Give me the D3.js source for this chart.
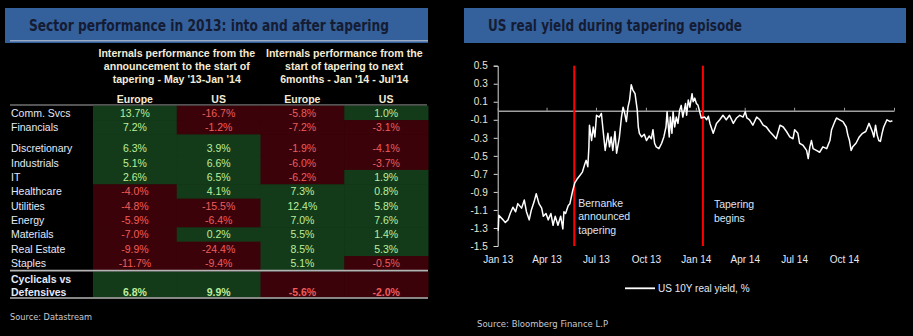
<!DOCTYPE html>
<html>
<head>
<meta charset="utf-8">
<script src="https://cdn.jsdelivr.net/npm/d3@7"></script>
<style>
  body { margin: 0; background: #000; }
  svg { display: block; }
</style>
</head>
<body>
<svg></svg>
<script>
/* ---- table data ---- */
var sectors = ["Comm. Svcs", "Financials", "Discretionary", "Industrials", "IT", "Healthcare",
               "Utilities", "Energy", "Materials", "Real Estate", "Staples"];
var europePre  = [13.7, 7.2, 6.3, 5.1, 2.6, -4.0, -4.8, -5.9, -7.0, -9.9, -11.7];
var usPre      = [-16.7, -1.2, 3.9, 6.6, 6.5, 4.1, -15.5, -6.4, 0.2, -24.4, -9.4];
var europePost = [-5.8, -7.2, -1.9, -6.0, -6.2, 7.3, 12.4, 7.0, 5.5, 8.5, 5.1];
var usPost     = [1.0, -3.1, -4.1, -3.7, 1.9, 0.8, 5.8, 7.6, 1.4, 5.3, -0.5];
var cycVsDef   = [6.8, 9.9, -5.6, -2.0];
var colNames   = ["Europe", "US", "Europe", "US"];
var periodHeaders = [
  ["Internals performance from the", "announcement to the start of", "tapering - May '13-Jan '14"],
  ["Internals performance from the", "start of tapering to next", "6months - Jan '14 - Jul'14"]
];

/* ---- US 10Y real yield, % ---- */
var yieldDates = ["2013-01-02","2013-01-03","2013-01-11","2013-01-15","2013-01-20","2013-01-24","2013-01-29",
  "2013-02-03","2013-02-07","2013-02-14","2013-02-19","2013-02-23","2013-02-28","2013-03-04","2013-03-09",
  "2013-03-13","2013-03-18","2013-03-23","2013-03-26","2013-03-31","2013-04-04","2013-04-09","2013-04-13",
  "2013-04-17","2013-04-22","2013-04-27","2013-05-01","2013-05-03","2013-05-06","2013-05-11","2013-05-14",
  "2013-05-19","2013-05-23","2013-05-27","2013-06-01","2013-06-06","2013-06-10","2013-06-13","2013-06-16",
  "2013-06-18","2013-06-19","2013-06-23","2013-06-26","2013-06-29","2013-07-02","2013-07-07","2013-07-11",
  "2013-07-14","2013-07-18","2013-07-23","2013-07-26","2013-07-29","2013-08-01","2013-08-05","2013-08-08",
  "2013-08-13","2013-08-17","2013-08-20","2013-08-23","2013-08-26","2013-08-29","2013-09-01","2013-09-04",
  "2013-09-07","2013-09-11","2013-09-15","2013-09-17","2013-09-19","2013-09-23","2013-09-28","2013-10-02",
  "2013-10-07","2013-10-11","2013-10-14","2013-10-17","2013-10-20","2013-10-25","2013-10-30","2013-11-03",
  "2013-11-07","2013-11-09","2013-11-13","2013-11-15","2013-11-18","2013-11-20","2013-11-23","2013-11-26",
  "2013-11-29","2013-12-02","2013-12-05","2013-12-08","2013-12-13","2013-12-15","2013-12-18","2013-12-21",
  "2013-12-25","2013-12-27","2013-12-30","2014-01-02","2014-01-05","2014-01-08","2014-01-11","2014-01-17",
  "2014-01-21","2014-01-24","2014-01-27","2014-02-02","2014-02-08","2014-02-14","2014-02-20","2014-02-26",
  "2014-03-04","2014-03-11","2014-03-17","2014-03-23","2014-03-29","2014-04-02","2014-04-05","2014-04-10",
  "2014-04-16","2014-04-23","2014-04-29","2014-05-05","2014-05-11","2014-05-17","2014-05-23","2014-05-29",
  "2014-06-05","2014-06-11","2014-06-17","2014-06-23","2014-06-29","2014-07-02","2014-07-08","2014-07-11",
  "2014-07-17","2014-07-24","2014-07-27","2014-07-30","2014-08-02","2014-08-05","2014-08-11","2014-08-17",
  "2014-08-23","2014-08-30","2014-09-05","2014-09-08","2014-09-14","2014-09-17","2014-09-23","2014-09-29",
  "2014-10-05","2014-10-08","2014-10-11","2014-10-14","2014-10-17","2014-10-23","2014-10-29","2014-11-04",
  "2014-11-10","2014-11-16","2014-11-22","2014-11-25","2014-11-28","2014-12-01","2014-12-04","2014-12-07",
  "2014-12-10","2014-12-13","2014-12-19","2014-12-25","2014-12-29"];
var yieldValues = [-1.33,-1.16,-1.21,-1.24,-1.21,-1.14,-1.07,
  -1.12,-1.03,-1.08,-0.99,-1.12,-1.21,-1.10,-1.01,
  -0.92,-1.03,-1.08,-1.17,-1.14,-1.21,-1.14,-1.27,
  -1.17,-1.27,-1.17,-1.31,-1.12,-1.14,-1.05,-1.03,
  -0.89,-0.80,-0.76,-0.72,-0.68,-0.60,-0.55,-0.62,
  -0.40,-0.16,-0.33,-0.18,-0.29,-0.05,-0.07,-0.03,
  -0.21,-0.44,-0.25,-0.40,-0.29,-0.44,-0.23,-0.47,
  -0.30,-0.07,0.04,-0.03,-0.12,0.04,0.12,0.29,
  0.23,0.19,0.01,-0.18,-0.25,-0.29,-0.26,-0.33,
  -0.28,-0.31,-0.21,-0.36,-0.40,-0.42,-0.36,-0.29,
  -0.18,-0.01,-0.29,-0.07,-0.25,-0.01,-0.18,-0.07,
  -0.14,0.00,0.06,-0.07,0.08,-0.05,0.12,0.04,
  0.19,0.10,0.14,0.08,0.06,-0.01,-0.08,-0.07,
  -0.10,-0.06,-0.14,-0.25,-0.14,-0.10,-0.05,-0.10,
  -0.05,-0.14,-0.08,-0.05,-0.07,-0.01,-0.08,-0.10,
  -0.16,-0.07,-0.10,-0.16,-0.18,-0.23,-0.27,-0.31,
  -0.16,-0.18,-0.23,-0.29,-0.31,-0.21,-0.25,-0.36,
  -0.38,-0.44,-0.53,-0.40,-0.33,-0.42,-0.44,-0.46,
  -0.40,-0.42,-0.33,-0.21,-0.12,-0.08,-0.10,-0.12,
  -0.18,-0.27,-0.33,-0.44,-0.40,-0.36,-0.29,-0.25,
  -0.23,-0.14,-0.23,-0.29,-0.16,-0.27,-0.33,-0.34,
  -0.25,-0.18,-0.10,-0.12,-0.11];
var yTicks = [-1.5,-1.3,-1.1,-0.9,-0.7,-0.5,-0.3,-0.1,0.1,0.3,0.5];
var xTickDates = ["2013-01-01","2013-04-01","2013-07-01","2013-10-01","2014-01-01",
                  "2014-04-01","2014-07-01","2014-10-01","2015-01-01"];
var eventDates = ["2013-05-22", "2014-01-14"];
var eventLabels = [["Bernanke", "announced", "tapering"], ["Tapering", "begins"]];

/* ---- styles ---- */
var bannerColor = "#34609c";
var titleColor = "#141c33";
var greenCell = "#133b19", redCell = "#3b0309";
var greenText = "#bdee9c", redText = "#f05c5c";
var labelColor = "#e4e8f8", headColor = "#f3ebd6";
var arial = "'Liberation Sans', Arial, sans-serif";
var tahoma = "'DejaVu Sans Condensed', 'DejaVu Sans', sans-serif";

var svg = d3.select("svg").attr("width", 913).attr("height", 336)
    .style("background", "#000");

/* ---- banners ---- */
function drawBanner(x0, x1, title, titleX, titleW, underline) {
  svg.append("rect").attr("x", x0).attr("y", 8).attr("width", x1 - x0).attr("height", 35)
     .attr("fill", bannerColor);
  if (underline) {
    svg.append("line").attr("x1", x0 + 5).attr("x2", x1).attr("y1", 40.8).attr("y2", 40.8)
       .attr("stroke", "#c8ccd8").attr("stroke-width", 1);
  }
  svg.append("text").attr("x", titleX).attr("y", 30.5).text(title)
     .attr("font-family", tahoma).attr("font-size", "15px").attr("font-weight", "bold")
     .attr("fill", titleColor)
     .attr("textLength", titleW).attr("lengthAdjust", "spacingAndGlyphs");
}
drawBanner(5, 428, "Sector performance in 2013: into and after tapering", 29, 360, true);
drawBanner(464, 906, "US real yield during tapering episode", 488, 254, false);

/* ---- table ---- */
var colX = d3.scaleBand().domain(d3.range(4)).range([93, 428]);
var rowH = 14.35, tableTop = 105.7, groupGap = 6.8;
function rowTop(i) { return tableTop + i * rowH + (i >= 2 ? groupGap : 0); }

var tbl = svg.append("g");

// period headers
periodHeaders.forEach(function (lines, k) {
  var cx = colX(k * 2) + colX.bandwidth();
  lines.forEach(function (t, j) {
    tbl.append("text").attr("x", cx).attr("y", 57 + j * 13).text(t)
       .attr("text-anchor", "middle").attr("font-family", arial)
       .attr("font-size", "10.6px").attr("font-weight", "bold").attr("fill", headColor);
  });
});
tbl.selectAll("text.colname").data(colNames).enter().append("text")
   .attr("class", "colname")
   .attr("x", (d, i) => colX(i) + colX.bandwidth() / 2).attr("y", 102.5)
   .attr("text-anchor", "middle").text(d => d)
   .attr("font-family", arial).attr("font-size", "10.5px").attr("font-weight", "bold")
   .attr("fill", headColor);
tbl.append("line").attr("x1", 10).attr("x2", 427).attr("y1", 105).attr("y2", 105)
   .attr("stroke", "#a8a8a8").attr("stroke-width", 1);

var columns = [europePre, usPre, europePost, usPost];
var cells = [];
columns.forEach(function (vals, c) {
  vals.forEach(function (v, r) {
    cells.push({ c: c, r: r, v: v });
  });
});

tbl.selectAll("rect.cell").data(cells).enter().append("rect")
   .attr("class", "cell")
   .attr("x", d => colX(d.c))
   .attr("y", d => d.r === 2 ? rowTop(2) - groupGap : rowTop(d.r))
   .attr("width", colX.bandwidth() + 0.5)
   .attr("height", d => (d.r === 2 ? rowH + groupGap : rowH) + 0.5)
   .attr("fill", d => d.v >= 0 ? greenCell : redCell);

function fmt(v) { return v.toFixed(1) + "%"; }

tbl.selectAll("text.val").data(cells).enter().append("text")
   .attr("class", "val")
   .attr("x", d => colX(d.c) + colX.bandwidth() / 2)
   .attr("y", d => rowTop(d.r) + rowH / 2 + 3.8)
   .attr("text-anchor", "middle").text(d => fmt(d.v))
   .attr("font-family", arial).attr("font-size", "10.5px")
   .attr("fill", d => d.v >= 0 ? greenText : redText);

tbl.selectAll("text.sector").data(sectors).enter().append("text")
   .attr("class", "sector")
   .attr("x", 11).attr("y", (d, i) => rowTop(i) + rowH / 2 + 3.8).text(d => d)
   .attr("font-family", arial).attr("font-size", "10.5px").attr("fill", labelColor);

// cyclicals vs defensives
var sepY = rowTop(sectors.length);
var cycTop = sepY + 1.2, cycBot = 297.3;
tbl.selectAll("rect.cyc").data(cycVsDef).enter().append("rect")
   .attr("class", "cyc")
   .attr("x", (d, i) => colX(i)).attr("y", cycTop)
   .attr("width", colX.bandwidth() + 0.5).attr("height", cycBot - cycTop)
   .attr("fill", d => d >= 0 ? greenCell : redCell);
tbl.selectAll("text.cycv").data(cycVsDef).enter().append("text")
   .attr("class", "cycv")
   .attr("x", (d, i) => colX(i) + colX.bandwidth() / 2).attr("y", 295.5)
   .attr("text-anchor", "middle").text(d => fmt(d))
   .attr("font-family", arial).attr("font-size", "10.5px").attr("font-weight", "bold")
   .attr("fill", d => d >= 0 ? greenText : redText);
["Cyclicals vs", "Defensives"].forEach(function (t, j) {
  tbl.append("text").attr("x", 11).attr("y", 283 + j * 12.7).text(t)
     .attr("font-family", arial).attr("font-size", "10.5px").attr("font-weight", "bold")
     .attr("fill", labelColor);
});
[sepY + 0.3, 298].forEach(function (y) {
  tbl.append("line").attr("x1", 10).attr("x2", 428).attr("y1", y).attr("y2", y)
     .attr("stroke", "#b4b4b4").attr("stroke-width", 1.6);
});

svg.append("text").attr("x", 10).attr("y", 320).text("Source: Datastream")
   .attr("font-family", tahoma).attr("font-size", "8.5px").attr("fill", "#c8c8d0")
   .attr("textLength", 82).attr("lengthAdjust", "spacingAndGlyphs");

/* ---- line chart ---- */
var parse = d3.timeParse("%Y-%m-%d");
var series = yieldDates.map((d, i) => ({ date: parse(d), value: yieldValues[i] }));

var x = d3.scaleTime().domain([parse("2013-01-01"), parse("2015-01-01")]).range([497.7, 894]);
var y = d3.scaleLinear().domain([-1.5, 0.5]).range([246, 65.7]);

var chart = svg.append("g");

// y axis
var yAxis = chart.append("g").attr("transform", "translate(497.7,0)")
   .call(d3.axisLeft(y).tickValues(yTicks).tickSize(4).tickPadding(6)
           .tickFormat(d => d.toFixed(1)));
yAxis.select(".domain").attr("stroke", "#d8d8d8");
yAxis.selectAll(".tick line").attr("stroke", "#d8d8d8");
yAxis.selectAll("text").attr("font-family", arial).attr("font-size", "10px")
     .attr("fill", "#efe6cf");

// zero line with quarter ticks
var zeroAxis = chart.append("g").attr("transform", "translate(0," + y(0) + ")")
   .call(d3.axisBottom(x).tickValues(xTickDates.map(parse)).tickSize(-3).tickSizeOuter(0)
           .tickFormat(""));
zeroAxis.select(".domain").attr("stroke", "#a0a0a0").attr("stroke-width", 1.5);
zeroAxis.selectAll(".tick line").attr("stroke", "#a0a0a0");

// date labels at bottom
var labAxis = chart.append("g").attr("transform", "translate(0,246)")
   .call(d3.axisBottom(x).tickValues(xTickDates.slice(0, -1).map(parse)).tickSize(0)
           .tickPadding(10).tickFormat(d3.timeFormat("%b %y")));
labAxis.select(".domain").remove();
labAxis.selectAll("text").attr("font-family", arial).attr("font-size", "10px")
     .attr("fill", "#e6e8f4");

// event markers
var eventDx = [4, 11];
eventDates.forEach(function (d, k) {
  var ex = x(parse(d));
  chart.append("line").attr("x1", ex).attr("x2", ex).attr("y1", y(0.5)).attr("y2", y(-1.5))
       .attr("stroke", "#ff0000").attr("stroke-width", 2);
  eventLabels[k].forEach(function (t, j) {
    chart.append("text").attr("x", ex + eventDx[k]).attr("y", 206.5 + k * 1.8 + j * 13.9).text(t)
         .attr("font-family", arial).attr("font-size", "10.5px").attr("fill", "#dde4f6");
  });
});

// the series
var line = d3.line().x(d => x(d.date)).y(d => y(d.value));
chart.append("path").datum(series).attr("d", line)
     .attr("fill", "none").attr("stroke", "#ffffff").attr("stroke-width", 1.5)
     .attr("stroke-linejoin", "round");

// legend
chart.append("line").attr("x1", 625).attr("x2", 655).attr("y1", 288.3).attr("y2", 288.3)
     .attr("stroke", "#ffffff").attr("stroke-width", 1.8);
chart.append("text").attr("x", 658).attr("y", 292).text("US 10Y real yield, %")
     .attr("font-family", arial).attr("font-size", "10px").attr("fill", "#e6e8f4");

svg.append("text").attr("x", 477).attr("y", 326.5).text("Source: Bloomberg Finance L.P")
   .attr("font-family", tahoma).attr("font-size", "8.5px").attr("fill", "#c8c8d0")
   .attr("textLength", 131).attr("lengthAdjust", "spacingAndGlyphs");
</script>
</body>
</html>
